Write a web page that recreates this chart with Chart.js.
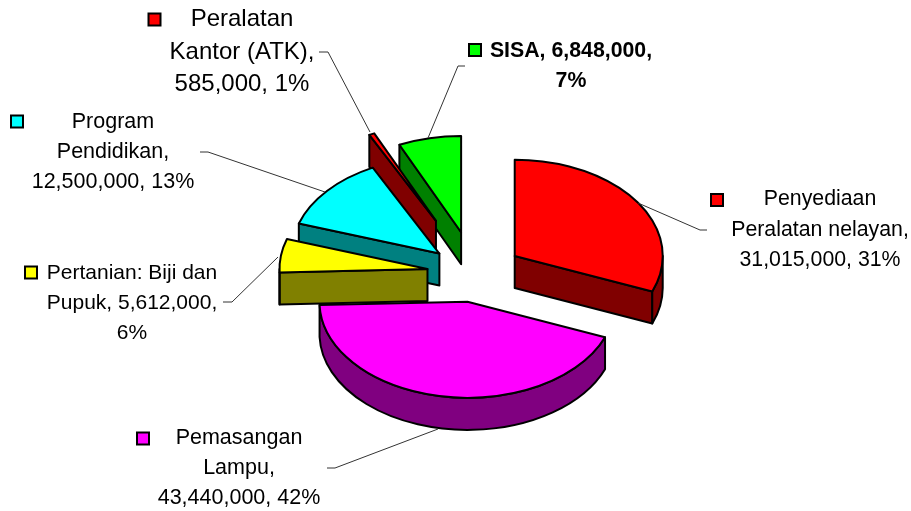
<!DOCTYPE html>
<html><head><meta charset="utf-8">
<style>html,body{margin:0;padding:0;background:#fff}canvas{display:block}</style>
<script src="https://cdn.jsdelivr.net/npm/chart.js@4/dist/chart.umd.min.js"></script>
</head><body><canvas id="c" width="911" height="511"></canvas>
<script>
const categories = ['Penyediaan Peralatan nelayan','Pemasangan Lampu','Pertanian: Biji dan Pupuk','Program Pendidikan','Peralatan Kantor (ATK)','SISA'];
const values = [31015000,43440000,5612000,12500000,585000,6848000];
const topColors = ['#ff0000','#ff00ff','#ffff00','#00ffff','#ff0000','#00ff00'];
const sideColors = ['#800000','#800080','#808000','#008080','#800000','#008000'];
const explode = [48,44,48,47,90,65];
const labelLines = [
  ['Penyediaan','Peralatan nelayan,','31,015,000, 31%'],
  ['Pemasangan','Lampu,','43,440,000, 42%'],
  ['Pertanian: Biji dan','Pupuk, 5,612,000,','6%'],
  ['Program','Pendidikan,','12,500,000, 13%'],
  ['Peralatan','Kantor (ATK),','585,000, 1%'],
  ['SISA, 6,848,000,','7%']
];
// layout: text centre x, first baseline y, line step, font px, bold, legend-key centre
const labelLayout = [
  {cx:820,y:205,step:30.5,size:21.3,key:[717,200]},
  {cx:239,y:444,step:30,size:21.5,key:[143,438.5]},
  {cx:132,y:279,step:30,size:21,key:[31,272.5]},
  {cx:113,y:128,step:30,size:21.5,key:[17,121.5]},
  {cx:242,y:26,step:32.5,size:24,key:[154.5,19.5]},
  {cx:571,y:57,step:30,size:21.3,bold:true,key:[475,50]}
];
const leaders = [
  [[638,203],[700,230],[707,230]],
  [[438,429],[335,468],[327,468]],
  [[278,257],[232,302],[223,302]],
  [[325,192],[208,152],[200,152]],
  [[370,132],[328,52],[319,52]],
  [[428,138],[458,66],[465,66]]
];
const SQUASH = 0.65, DEPTH = 32, RADIUS = 148, CX = 475, CY = 273.5;

function pt(el, ang){ return [el.x + Math.cos(ang)*RADIUS, el.y + Math.sin(ang)*RADIUS*SQUASH]; }
const pie3d = {
  id:'pie3d',
  afterDatasetsUpdate(chart){
    const cy = chart.chartArea.top + chart.chartArea.height/2;
    chart.getDatasetMeta(0).data.forEach((el,i)=>{
      const mid=(el.startAngle+el.endAngle)/2;
      el.x += Math.cos(mid)*explode[i];
      el.y = cy + Math.sin(mid)*explode[i]*SQUASH;
    });
  },
  beforeDatasetDraw(chart){
    const ctx=chart.ctx, arcs=chart.getDatasetMeta(0).data;
    ctx.save();
    ctx.lineWidth=2; ctx.strokeStyle='#000'; ctx.lineJoin='round';
    // walls, back to front
    [5,4,3,2,0,1].forEach(i=>{
      const el=arcs[i]; ctx.fillStyle=sideColors[i];
      const s=el.startAngle,e=el.endAngle;
      const quad=a=>{const p=pt(el,a);ctx.beginPath();ctx.moveTo(el.x,el.y);ctx.lineTo(p[0],p[1]);ctx.lineTo(p[0],p[1]+DEPTH);ctx.lineTo(el.x,el.y+DEPTH);ctx.closePath();ctx.fill();ctx.stroke();};
      if(Math.sin(s+Math.PI/2)<0) quad(s);
      if(Math.sin(e+Math.PI/2)>0) quad(e);
      const a0=Math.max(s,0),a1=Math.min(e,Math.PI);
      if(a1>a0){
        const p1=pt(el,a1);
        ctx.beginPath();ctx.ellipse(el.x,el.y,RADIUS,RADIUS*SQUASH,0,a0,a1);
        ctx.lineTo(p1[0],p1[1]+DEPTH);
        ctx.ellipse(el.x,el.y+DEPTH,RADIUS,RADIUS*SQUASH,0,a1,a0,true);
        ctx.closePath();ctx.fill();ctx.stroke();
      }
    });
    ctx.restore();
    // flatten the library's own arcs about their own centres
    arcs.forEach(el=>{
      if(!el.$wrapped){
        const d=el.draw;
        el.draw=function(c,a){c.save();c.translate(this.x,this.y);c.scale(1,SQUASH);c.translate(-this.x,-this.y);d.call(this,c,a);c.restore();};
        el.$wrapped=true;
      }
    });
  },
  afterDatasetDraw(chart){
    const ctx=chart.ctx, arcs=chart.getDatasetMeta(0).data;
    ctx.save();
    ctx.lineWidth=2; ctx.strokeStyle='#000'; ctx.lineJoin='round';
    arcs.forEach(el=>{
      ctx.beginPath();ctx.moveTo(el.x,el.y);
      ctx.ellipse(el.x,el.y,RADIUS,RADIUS*SQUASH,0,el.startAngle,el.endAngle);
      ctx.closePath();ctx.stroke();
    });
    ctx.restore();
  },
  afterDraw(chart){
    const ctx=chart.ctx;
    ctx.save();
    ctx.strokeStyle='#333';ctx.lineWidth=1;
    leaders.forEach(l=>{ctx.beginPath();l.forEach((p,i)=>i?ctx.lineTo(p[0],p[1]):ctx.moveTo(p[0],p[1]));ctx.stroke();});
    ctx.textAlign='center';ctx.textBaseline='alphabetic';
    labelLines.forEach((lines,i)=>{
      const L=labelLayout[i];
      ctx.fillStyle='#000';
      ctx.font=(L.bold?'bold ':'')+L.size+'px "Liberation Sans", Arial, sans-serif';
      lines.forEach((t,j)=>ctx.fillText(t,L.cx,L.y+j*L.step));
      ctx.fillStyle=topColors[i];ctx.strokeStyle='#000';ctx.lineWidth=2;
      ctx.fillRect(L.key[0]-6,L.key[1]-6,12,12);ctx.strokeRect(L.key[0]-6,L.key[1]-6,12,12);
    });
    ctx.restore();
  }
};
new Chart(document.getElementById('c'),{
  type:'pie',
  data:{labels:categories,datasets:[{data:values,backgroundColor:topColors,borderWidth:0,clip:false}]},
  options:{
    responsive:false,animation:false,radius:RADIUS,
    layout:{padding:{left:2*CX-911,top:2*CY-511}},
    plugins:{legend:{display:false},tooltip:{enabled:false},title:{display:false}}
  },
  plugins:[pie3d]
});
</script></body></html>
